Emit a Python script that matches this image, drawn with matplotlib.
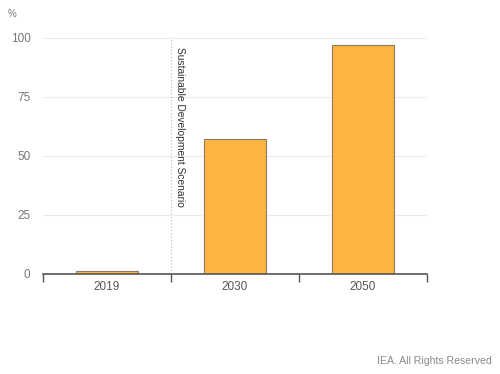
import matplotlib.pyplot as plt

years = ["2019", "2030", "2050"]
share = [1.2, 57, 97]
yticks = [0, 25, 50, 75, 100]
scenario_label = "Sustainable Development Scenario"

plt.rcParams["font.family"] = ["Liberation Sans", "DejaVu Sans"]

fig = plt.figure(figsize=(5, 3.74), dpi=100)
ax = fig.add_axes([0.086, 0.2674, 0.768, 0.631])

x = range(len(years))
ax.bar(x, share, width=0.49, color="#FDB53F", edgecolor="#8a7a66", linewidth=0.8, zorder=3)

ax.set_xlim(-0.5, len(years) - 0.5)
ax.set_ylim(0, 100)
ax.set_yticks(yticks)
ax.set_yticklabels([str(t) for t in yticks], color="#777777", fontsize=8.5)
ax.grid(axis="y", color="#ebebeb", linewidth=0.8, zorder=0)
ax.tick_params(axis="y", length=0, pad=9)

# category boundaries as ticks, labels centred under bars
ax.set_xticks([i - 0.5 for i in range(len(years) + 1)])
ax.set_xticklabels([])
ax.set_xticks(list(x), minor=True)
ax.set_xticklabels(years, minor=True, color="#555555", fontsize=8.5)
ax.tick_params(axis="x", which="major", length=6, width=1, color="#555555", direction="out")
ax.tick_params(axis="x", which="minor", length=0, pad=5)

for s in ["top", "right", "left"]:
    ax.spines[s].set_visible(False)
ax.spines["bottom"].set_color("#555555")
ax.spines["bottom"].set_linewidth(1.2)
ax.spines["bottom"].set_zorder(4)

ax.axvline(0.5, color="#bbbbbb", linestyle=(0, (1, 2)), linewidth=0.8, ymax=1.005, clip_on=False, zorder=2)
ax.text(0.53, 96, scenario_label, rotation=-90, ha="left", va="top", fontsize=7.4, color="#333333")

fig.text(0.016, 0.975, "%", fontsize=7, color="#777777", ha="left", va="top")
fig.text(0.984, 0.035, "IEA. All Rights Reserved", fontsize=7.6, color="#8a8a8a", ha="right", va="center")

fig.savefig("out.png", dpi=100)
